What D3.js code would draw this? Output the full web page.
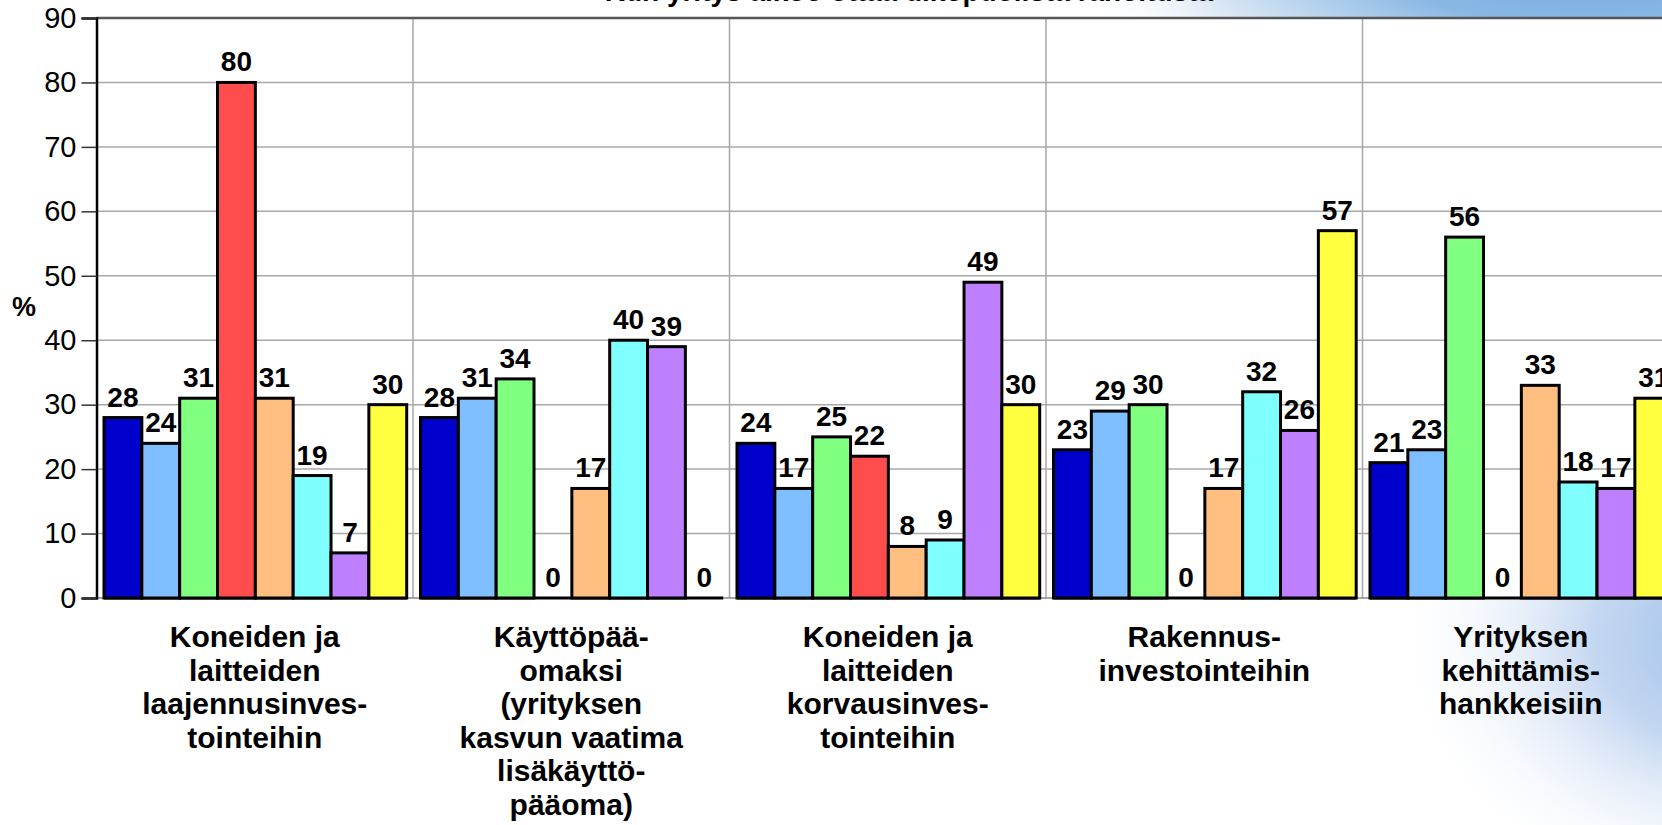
<!DOCTYPE html>
<html>
<head>
<meta charset="utf-8">
<script src="https://cdn.jsdelivr.net/npm/d3@7"></script>
<style>
  body { margin: 0; background: #fff; }
  svg { display: block; font-family: "Liberation Sans", Arial, sans-serif; }
</style>
</head>
<body>
<div id="chart-area"></div>
<script>

// categories (x groups), each label split into its lines
var categories = ["laajennus", "kayttopaaoma", "korvaus", "rakennus", "kehittamis"];
var categoryLines = [
    ["Koneiden ja", "laitteiden", "laajennusinves-", "tointeihin"],
    ["Käyttöpää-", "omaksi", "(yrityksen", "kasvun vaatima", "lisäkäyttö-", "pääoma)"],
    ["Koneiden ja", "laitteiden", "korvausinves-", "tointeihin"],
    ["Rakennus-", "investointeihin"],
    ["Yrityksen", "kehittämis-", "hankkeisiin"]
];

// series values, one array per series (one value per category)
var series1 = [28, 28, 24, 23, 21];
var series2 = [24, 31, 17, 29, 23];
var series3 = [31, 34, 25, 30, 56];
var series4 = [80, 0, 22, 0, 0];
var series5 = [31, 17, 8, 17, 33];
var series6 = [19, 40, 9, 32, 18];
var series7 = [7, 39, 49, 26, 17];
var series8 = [30, 0, 30, 57, 31];

var seriesColors = ["#0000cc", "#80bfff", "#80ff80", "#ff4d4d", "#ffbf80", "#80ffff", "#bf80ff", "#ffff40"];

var yTicks = [0, 10, 20, 30, 40, 50, 60, 70, 80, 90];

var title = "Kun yritys aikoo ottaa ulkopuolista rahoitusta";

var allSeries = [series1, series2, series3, series4, series5, series6, series7, series8];

var W = 1662, H = 825;

var svg = d3.select("#chart-area")
    .append("svg")
        .attr("width", W)
        .attr("height", H);

// background with the bluish corner glows
var defs = svg.append("defs");
var g1 = defs.append("radialGradient").attr("id", "glowTop")
    .attr("gradientUnits", "userSpaceOnUse")
    .attr("cx", 1590).attr("cy", -20).attr("r", 520)
    .attr("gradientTransform", "translate(1590,-20) scale(1,0.25) translate(-1590,20)");
g1.append("stop").attr("offset", "0%").attr("stop-color", "#78aee0");
g1.append("stop").attr("offset", "35%").attr("stop-color", "#8ab8e4");
g1.append("stop").attr("offset", "75%").attr("stop-color", "#dce8f5");
g1.append("stop").attr("offset", "100%").attr("stop-color", "#ffffff").attr("stop-opacity", 0);

var g2 = defs.append("radialGradient").attr("id", "glowBottom")
    .attr("gradientUnits", "userSpaceOnUse")
    .attr("cx", 1730).attr("cy", 640).attr("r", 340)
    .attr("gradientTransform", "translate(1730,640) scale(1,0.8) translate(-1730,-640)");
g2.append("stop").attr("offset", "0%").attr("stop-color", "#9fc0ea");
g2.append("stop").attr("offset", "40%").attr("stop-color", "#c4d7f1");
g2.append("stop").attr("offset", "100%").attr("stop-color", "#ffffff").attr("stop-opacity", 0);

svg.append("rect").attr("width", W).attr("height", H).attr("fill", "#fff");
svg.append("rect").attr("width", W).attr("height", H).attr("fill", "url(#glowTop)");
svg.append("rect").attr("width", W).attr("height", H).attr("fill", "url(#glowBottom)");

// title (mostly cut off at the top edge, as in the original slide)
svg.append("text")
    .attr("x", 1213)
    .attr("y", 1)
    .attr("text-anchor", "end")
    .attr("font-size", 28)
    .attr("font-weight", "bold")
    .attr("fill", "#000")
    .text(title);

// scales
var left = 96.5, groupW = 316.5;
var x0 = d3.scaleBand()
    .domain(categories)
    .range([left, left + groupW * categories.length]);

var x1 = d3.scaleBand()
    .domain(d3.range(allSeries.length))
    .range([7.5, 310.2]);

var y = d3.scaleLinear()
    .domain([0, 90])
    .range([598, 18]);

// plot area
svg.append("rect")
    .attr("x", left).attr("y", y(90))
    .attr("width", W - left).attr("height", y(0) - y(90))
    .attr("fill", "#fff");

// horizontal grid
svg.selectAll(".hgrid")
    .data(yTicks.filter(function(d) { return d > 0 && d < 90; }))
    .enter().append("line")
        .attr("x1", left).attr("x2", W)
        .attr("y1", function(d) { return y(d); })
        .attr("y2", function(d) { return y(d); })
        .attr("stroke", "#a8a8a8")
        .attr("stroke-width", 1.5);

// vertical grid at group boundaries
svg.selectAll(".vgrid")
    .data(categories.slice(1))
    .enter().append("line")
        .attr("x1", function(d) { return x0(d); })
        .attr("x2", function(d) { return x0(d); })
        .attr("y1", y(90)).attr("y2", y(0))
        .attr("stroke", "#a8a8a8")
        .attr("stroke-width", 1.5);

// top border
svg.append("line")
    .attr("x1", left).attr("x2", W)
    .attr("y1", y(90)).attr("y2", y(90))
    .attr("stroke", "#555")
    .attr("stroke-width", 2.5);

// zero line
svg.append("line")
    .attr("x1", left).attr("x2", W)
    .attr("y1", y(0)).attr("y2", y(0))
    .attr("stroke", "#888")
    .attr("stroke-width", 1.5);

// y axis
var yAxis = svg.append("g")
    .attr("transform", "translate(" + left + ",0)")
    .call(d3.axisLeft(y).tickValues(yTicks).tickSize(15).tickPadding(5));
yAxis.select(".domain").attr("stroke", "#000").attr("stroke-width", 2.5);
yAxis.selectAll(".tick line").attr("stroke", "#333").attr("stroke-width", 1.5);
yAxis.selectAll(".tick text")
    .attr("font-size", 29)
    .attr("font-family", "Liberation Sans, Arial, sans-serif")
    .attr("fill", "#000");

svg.append("text")
    .attr("x", 24).attr("y", 316)
    .attr("text-anchor", "middle")
    .attr("font-size", 27)
    .attr("font-weight", "bold")
    .text("%");

// bars
var groups = svg.selectAll(".group")
    .data(categories)
    .enter().append("g")
        .attr("transform", function(d) { return "translate(" + x0(d) + ",0)"; });

// thick base under each group's bars
groups.append("line")
    .attr("x1", x1(0)).attr("x2", x1(allSeries.length - 1) + x1.bandwidth())
    .attr("y1", y(0)).attr("y2", y(0))
    .attr("stroke", "#000")
    .attr("stroke-width", 3);

groups.each(function(cat, ci) {
    var g = d3.select(this);
    var vals = allSeries.map(function(s, si) { return { si: si, v: s[ci] }; });

    g.selectAll("rect")
        .data(vals.filter(function(d) { return d.v > 0; }))
        .enter().append("rect")
            .attr("x", function(d) { return x1(d.si); })
            .attr("y", function(d) { return y(d.v); })
            .attr("width", x1.bandwidth())
            .attr("height", function(d) { return y(0) - y(d.v); })
            .attr("fill", function(d) { return seriesColors[d.si]; })
            .attr("stroke", "#000")
            .attr("stroke-width", 3);

    g.selectAll(".val")
        .data(vals)
        .enter().append("text")
            .attr("x", function(d) { return x1(d.si) + x1.bandwidth() / 2; })
            .attr("y", function(d) { return y(d.v) - 11; })
            .attr("text-anchor", "middle")
            .attr("font-size", 28)
            .attr("font-weight", "bold")
            .attr("fill", "#000")
            .text(function(d) { return d.v; });

    var label = g.append("text")
        .attr("text-anchor", "middle")
        .attr("font-size", 30)
        .attr("font-weight", "bold")
        .attr("fill", "#000");
    label.selectAll("tspan")
        .data(categoryLines[ci])
        .enter().append("tspan")
            .attr("x", groupW / 2)
            .attr("y", function(d, i) { return 647 + i * 33.5; })
            .text(function(d) { return d; });
});

</script>
</body>
</html>
